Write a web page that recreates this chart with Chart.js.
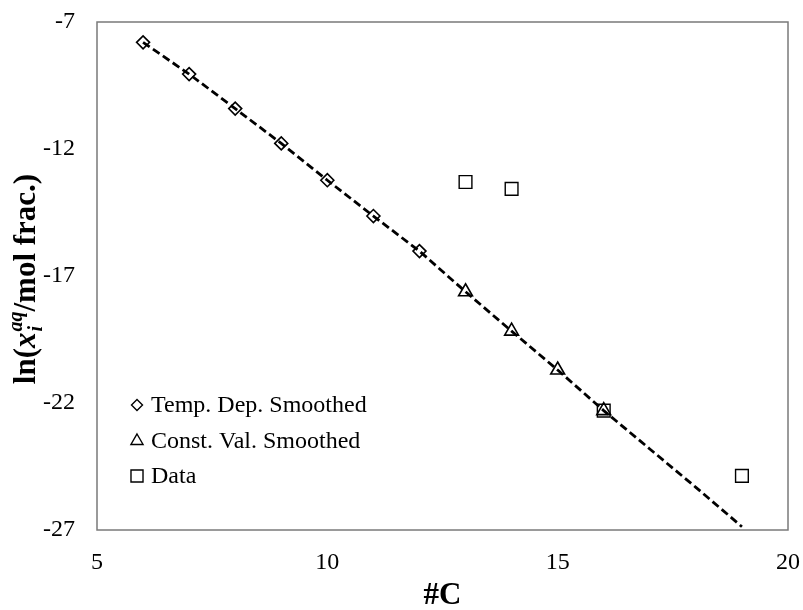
<!DOCTYPE html>
<html>
<head>
<meta charset="utf-8">
<script src="https://cdn.jsdelivr.net/npm/chart.js@4/dist/chart.umd.min.js"></script>
<style>
  html, body { margin: 0; padding: 0; background: #fff; }
  #wrap { width: 803px; height: 610px; position: relative; }
</style>
</head>
<body>
<div id="wrap"><canvas id="c" width="803" height="610"></canvas></div>
<script>
// ---- data ----
const tempCarbons = [6, 7, 8, 9, 10, 11, 12];
const tempValues = [-7.80, -9.05, -10.41, -11.78, -13.23, -14.64, -16.02];
const constCarbons = [13, 14, 15, 16];
const constValues = [-17.62, -19.17, -20.70, -22.30];
const dataCarbons = [13, 14, 16, 19];
const dataValues = [-13.30, -13.57, -22.30, -24.87];
const lineCarbons = [6, 7, 8, 9, 10, 11, 12, 13, 14, 15, 16, 17, 18, 19];
const lineValues = [-7.80, -9.05, -10.41, -11.78, -13.23, -14.64, -16.02, -17.62, -19.17, -20.70, -22.30, -23.81, -25.32, -26.87];
const xTicks = [5, 10, 15, 20];
const yTicks = [-27, -22, -17, -12, -7];
const seriesLabels = ['Temp. Dep. Smoothed', 'Const. Val. Smoothed', 'Data'];

const toXY = (xs, ys) => xs.map((x, i) => ({ x: x, y: ys[i] }));
const FONT = "'Liberation Serif', 'Times New Roman', serif";

const framePlugin = {
  id: 'frame',
  beforeDatasetsDraw(chart) {
    const { ctx, chartArea: a } = chart;
    ctx.save();
    ctx.strokeStyle = '#7a7a7a';
    ctx.lineWidth = 1.5;
    ctx.strokeRect(a.left, a.top, a.right - a.left, a.bottom - a.top);
    ctx.restore();
  },
  afterDraw(chart) {
    const { ctx } = chart;
    ctx.save();
    // ---- legend (inside plot, bottom-left) ----
    const rows = [405, 441, 476];
    const styles = ['rectRot', 'triangle', 'rect'];
    const radii = [5.5, 7, 8.5];
    ctx.font = '24px ' + FONT;
    ctx.textBaseline = 'middle';
    ctx.textAlign = 'left';
    for (let i = 0; i < 3; i++) {
      ctx.strokeStyle = '#000';
      ctx.fillStyle = 'rgba(0,0,0,0)';
      ctx.lineWidth = 1.4;
      Chart.helpers.drawPoint(ctx, { pointStyle: styles[i], radius: radii[i], borderWidth: 1.4, rotation: 0 }, 137, rows[i]);
      ctx.fillStyle = '#000';
      ctx.fillText(seriesLabels[i], 151, rows[i] + 1);
    }
    // ---- y axis title with sub/superscript ----
    const cx = 24, cy = 279;
    ctx.translate(cx, cy);
    ctx.rotate(-Math.PI / 2);
    ctx.textBaseline = 'alphabetic';
    const big = 'bold 31px ' + FONT;
    const bigIt = 'bold italic 31px ' + FONT;
    const small = 'bold italic 20px ' + FONT;
    ctx.font = big; const w1 = ctx.measureText('ln(').width;
    ctx.font = bigIt; const w2 = ctx.measureText('x').width;
    ctx.font = small; const wSup = ctx.measureText('aq').width; const wSub = ctx.measureText('i').width;
    const w3 = Math.max(wSup, wSub) + 1;
    ctx.font = big; const w4 = ctx.measureText('/mol frac.)').width;
    const total = w1 + w2 + w3 + w4;
    let x = -total / 2;
    const base = 11;
    ctx.fillStyle = '#000';
    ctx.font = big; ctx.fillText('ln(', x, base); x += w1;
    ctx.font = bigIt; ctx.fillText('x', x, base); x += w2;
    ctx.font = small; ctx.fillText('aq', x + 1, base - 13); ctx.fillText('i', x + 1, base + 7); x += w3;
    ctx.font = big; ctx.fillText('/mol frac.)', x, base);
    ctx.restore();
  }
};

const ctx = document.getElementById('c').getContext('2d');
new Chart(ctx, {
  type: 'scatter',
  data: {
    datasets: [
      {
        label: seriesLabels[0],
        data: toXY(tempCarbons, tempValues),
        pointStyle: 'rectRot',
        pointRadius: 6.5,
        pointBorderColor: '#000',
        pointBackgroundColor: 'rgba(0,0,0,0)',
        pointBorderWidth: 1.6,
        showLine: false
      },
      {
        label: seriesLabels[1],
        data: toXY(constCarbons, constValues),
        pointStyle: 'triangle',
        pointRadius: 8,
        pointBorderColor: '#000',
        pointBackgroundColor: 'rgba(0,0,0,0)',
        pointBorderWidth: 1.6,
        showLine: false
      },
      {
        label: seriesLabels[2],
        data: toXY(dataCarbons, dataValues),
        pointStyle: 'rect',
        pointRadius: 9,
        pointBorderColor: '#000',
        pointBackgroundColor: 'rgba(0,0,0,0)',
        pointBorderWidth: 1.4,
        showLine: false
      },
      {
        label: 'fit',
        data: toXY(lineCarbons, lineValues),
        showLine: true,
        borderColor: '#000',
        borderWidth: 2.8,
        borderDash: [8, 4],
        pointRadius: 0,
        fill: false,
        tension: 0
      }
    ]
  },
  options: {
    responsive: false,
    animation: false,
    layout: { padding: { left: 0, right: 15, top: 22, bottom: 0 } },
    plugins: {
      legend: { display: false },
      tooltip: { enabled: false },
      title: { display: false }
    },
    scales: {
      x: {
        type: 'linear',
        min: 5, max: 20,
        afterBuildTicks: (s) => { s.ticks = xTicks.map(v => ({ value: v })); },
        afterFit: (s) => { s.height = 80; s.paddingLeft = 0; s.paddingRight = 0; },
        grid: { display: false },
        border: { display: false },
        ticks: { color: '#000', font: { family: FONT, size: 24 }, padding: 10, maxRotation: 0 },
        title: {
          display: true, text: '#C', color: '#000',
          font: { family: FONT, size: 31, weight: 'bold', lineHeight: 0.9 }, padding: { top: 0, bottom: 0 }
        }
      },
      y: {
        type: 'linear',
        min: -27, max: -7,
        afterBuildTicks: (s) => { s.ticks = yTicks.map(v => ({ value: v })); },
        afterFit: (s) => { s.width = 97; s.paddingTop = 0; s.paddingBottom = 0; },
        grid: { display: false },
        border: { display: false },
        ticks: { color: '#000', font: { family: FONT, size: 24 }, padding: 14 }
      }
    }
  },
  plugins: [framePlugin]
});
</script>
</body>
</html>
